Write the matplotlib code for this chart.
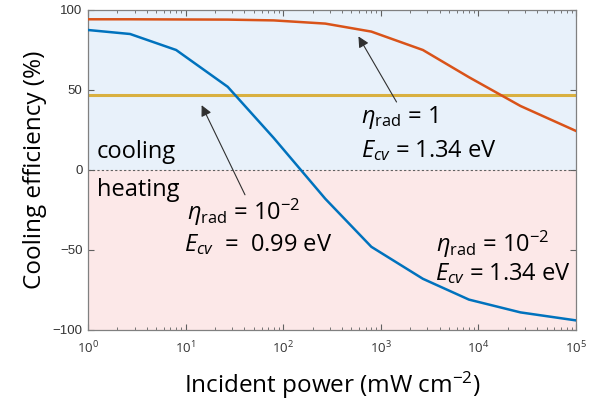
import matplotlib
matplotlib.use("Agg")
import matplotlib.pyplot as plt
from matplotlib.ticker import FixedLocator, LogLocator, NullFormatter, FuncFormatter
import numpy as np

plt.rcParams['mathtext.fontset'] = 'custom'
plt.rcParams['mathtext.rm'] = 'Open Sans'
plt.rcParams['mathtext.it'] = 'Open Sans:italic'
plt.rcParams['mathtext.sf'] = 'Open Sans'

# Data
power = [1, 2.7, 8, 27, 80, 270, 800, 2700, 8000, 27000, 100000]
eff_blue = [87.5, 85, 75, 52, 20, -18, -48, -68, -81, -89, -94]      # eta=1e-2, Ecv=1.34 eV
eff_orange = [94.2, 94.2, 94.1, 94.0, 93.5, 91.5, 86.5, 75, 58, 40, 24.4]  # eta=1, Ecv=1.34 eV
eff_yellow = [47, 47]  # eta=1e-2, Ecv=0.99 eV
power_yellow = [1, 100000]

yticks = [-100, -50, 0, 50, 100]

fig = plt.figure(figsize=(6.03, 4.09), dpi=100)
ax = fig.add_axes([88/603, 79/409, 488/603, 320/409])

ax.axhspan(0, 100, color='#e8f1fa', zorder=0, lw=0)
ax.axhspan(-100, 0, color='#fce8e8', zorder=0, lw=0)
ax.axhline(0, color='#606060', ls=(0, (2, 2)), lw=0.8, zorder=1)

ax.plot(power, eff_orange, color='#d95319', lw=1.8, zorder=3)
ax.plot(power, eff_blue, color='#0072bd', lw=1.8, zorder=3)
ax.plot(power_yellow, eff_yellow, color='#d9b040', lw=2.2, zorder=2)

ax.set_xscale('log')
ax.set_xlim(1, 1e5)
ax.set_ylim(-100, 100)
ax.yaxis.set_major_locator(FixedLocator(yticks))
ax.xaxis.set_major_locator(LogLocator(base=10, numticks=10))
ax.xaxis.set_minor_locator(LogLocator(base=10, subs=np.arange(2, 10), numticks=100))
ax.xaxis.set_minor_formatter(NullFormatter())
ax.xaxis.set_major_formatter(FuncFormatter(lambda v, p: r'$10^{%d}$' % int(round(np.log10(v)))))

for s in ax.spines.values():
    s.set_color('#808080')
    s.set_linewidth(0.9)
ax.tick_params(which='both', direction='in', top=True, right=True, color='#606060')
ax.tick_params(which='major', length=4, width=0.8)
ax.tick_params(which='minor', length=2.5, width=0.6)
ax.tick_params(axis='y', labelsize=9.5, pad=4, labelcolor='#333333')
ax.tick_params(axis='x', labelsize=9.5, pad=7, labelcolor='#333333')
for lab in ax.get_yticklabels():
    lab.set_fontfamily('Liberation Sans')
for lab in ax.get_xticklabels():
    lab.set_fontfamily('Liberation Sans')

lf = dict(family='Open Sans', fontsize=17.5)
ax.set_xlabel(r'Incident power (mW cm$^{\mathregular{-2}}$)', labelpad=10, **lf)
ax.set_ylabel('Cooling efficiency (%)', labelpad=4, **lf)

tf = dict(family='Open Sans', fontsize=17, ha='left', va='baseline', zorder=5)
ax.text(1.24, 7.5, 'cooling', **tf)
ax.text(1.24, -16.5, 'heating', **tf)
ax.text(10.3, -31, r'$\eta_{\mathrm{rad}}$ = 10$^{\mathregular{-2}}$', **tf)
ax.text(9.6, -50.5, r'$E_{cv}$  =  0.99 eV', **tf)
ax.text(630, 29.5, r'$\eta_{\mathrm{rad}}$ = 1', **tf)
ax.text(630, 8, r'$E_{cv}$ = 1.34 eV', **tf)
ax.text(3650, -51.5, r'$\eta_{\mathrm{rad}}$ = 10$^{\mathregular{-2}}$', **tf)
ax.text(3550, -68.5, r'$E_{cv}$ = 1.34 eV', **tf)

ap = dict(arrowstyle='-|>', color='#303030', lw=0.8, mutation_scale=16, shrinkA=0, shrinkB=0)
ax.annotate('', xy=(14.6, 40.5), xytext=(40.6, -15.5), arrowprops=ap, zorder=6)
ax.annotate('', xy=(590, 83.5), xytext=(1450, 42.5), arrowprops=ap, zorder=6)

fig.savefig('out.png', dpi=100)
